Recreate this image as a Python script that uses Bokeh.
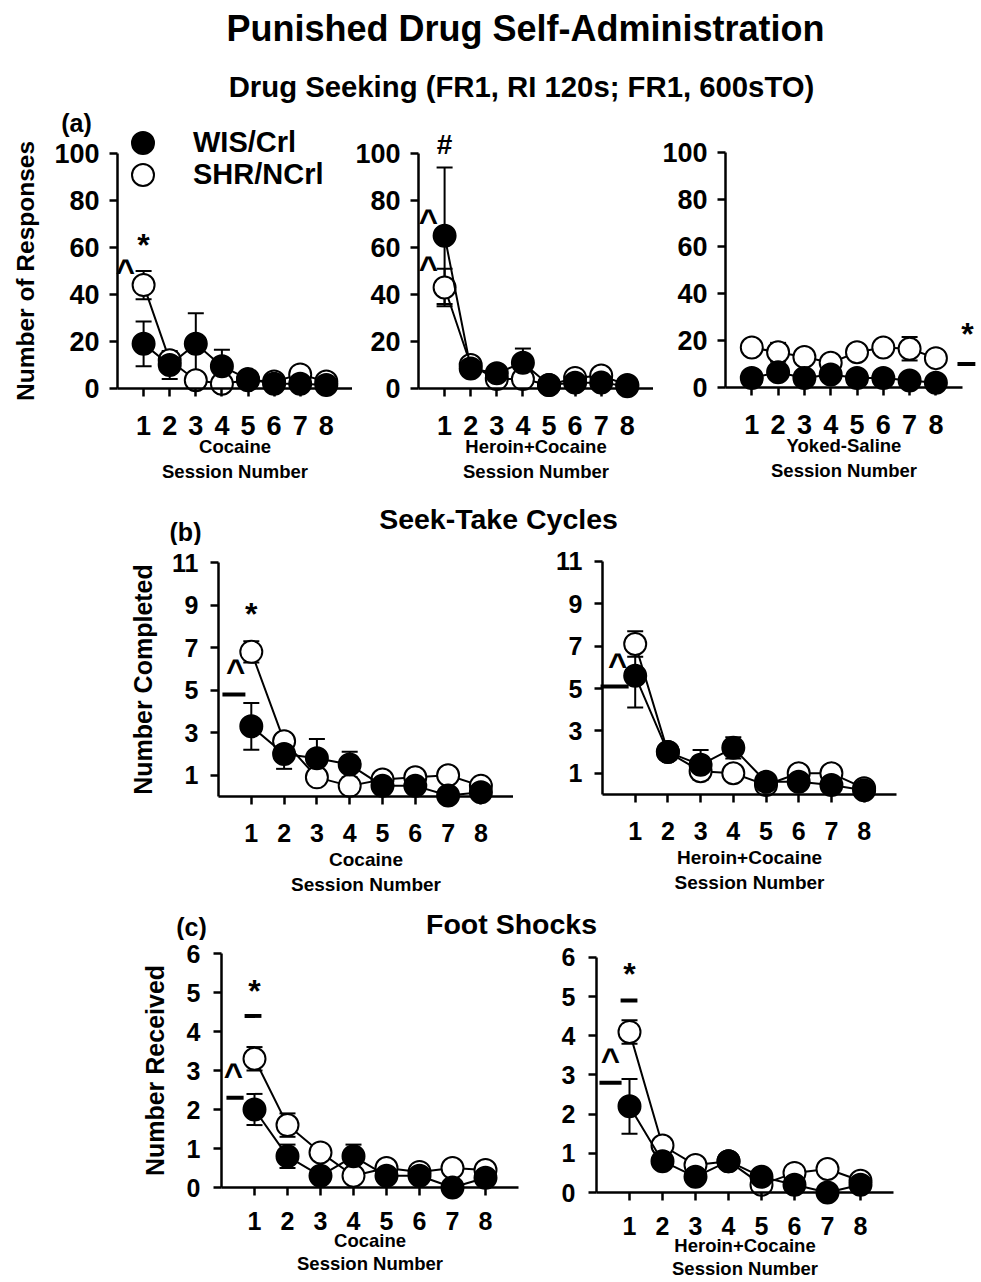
from bokeh.plotting import figure
from bokeh.layouts import column, row
from bokeh.models import (Range1d, FixedTicker, ColumnDataSource, Whisker, TeeHead,
                          Label, Legend, LegendItem)
from bokeh.embed import file_html
from bokeh.resources import INLINE

FONT = "Liberation Sans"

# ---------------- data ----------------
sessions = [1, 2, 3, 4, 5, 6, 7, 8]
groups = ["WIS/Crl", "SHR/NCrl"]

# (a) Drug seeking – number of responses
a_coc_wis = [19, 10, 19, 9.5, 4, 2, 2, 1.5]
a_coc_wis_sem = [9.5, 6, 13, 7, 1, 1, 1, 1]
a_coc_shr = [44, 12, 3.5, 2, 3.5, 3, 6, 3]
a_coc_shr_sem = [6, 2, 2, 2, 1, 1, 1.5, 1]
a_her_wis = [65, 8.5, 6.5, 11, 1.5, 2.5, 2.5, 1]
a_her_wis_sem = [29, 2, 1, 6, 0.5, 1, 1, 0.5]
a_her_shr = [43, 10, 4, 4, 1.5, 4.5, 5.5, 1.5]
a_her_shr_sem = [8, 2, 1, 2, 0.5, 1, 1, 0.5]
a_sal_wis = [4, 6.5, 4, 5.5, 4, 4, 3, 2]
a_sal_wis_sem = [1, 1.5, 1, 1, 1, 1, 1, 0.5]
a_sal_shr = [17, 15, 13, 10.5, 15, 17, 16.5, 12.5]
a_sal_shr_sem = [1, 4, 1, 1, 1, 1, 5, 1]

# (b) Seek-take cycles completed
b_coc_wis = [3.3, 2.0, 1.8, 1.5, 0.5, 0.5, 0.05, 0.2]
b_coc_wis_sem = [1.1, 0.7, 0.9, 0.6, 0.2, 0.2, 0.1, 0.1]
b_coc_shr = [6.8, 2.6, 0.9, 0.5, 0.8, 0.9, 1.0, 0.5]
b_coc_shr_sem = [0.5, 0.2, 0.1, 0.1, 0.1, 0.1, 0.1, 0.1]
b_her_wis = [5.6, 2.0, 1.4, 2.2, 0.6, 0.6, 0.45, 0.2]
b_her_wis_sem = [1.5, 0.2, 0.7, 0.5, 0.1, 0.1, 0.1, 0.1]
b_her_shr = [7.1, 2.0, 1.1, 1.0, 0.45, 1.0, 1.0, 0.3]
b_her_shr_sem = [0.6, 0.2, 0.2, 0.1, 0.1, 0.1, 0.1, 0.1]

# (c) Foot shocks received
c_coc_wis = [2.0, 0.8, 0.3, 0.8, 0.3, 0.3, 0.0, 0.25]
c_coc_wis_sem = [0.4, 0.3, 0.1, 0.3, 0.1, 0.1, 0.05, 0.1]
c_coc_shr = [3.3, 1.6, 0.9, 0.3, 0.5, 0.4, 0.5, 0.45]
c_coc_shr_sem = [0.3, 0.3, 0.1, 0.1, 0.1, 0.1, 0.1, 0.1]
c_her_wis = [2.2, 0.8, 0.4, 0.8, 0.4, 0.2, 0.0, 0.2]
c_her_wis_sem = [0.7, 0.1, 0.1, 0.1, 0.1, 0.1, 0.05, 0.1]
c_her_shr = [4.1, 1.2, 0.7, 0.8, 0.2, 0.5, 0.6, 0.3]
c_her_shr_sem = [0.3, 0.1, 0.1, 0.1, 0.1, 0.1, 0.1, 0.1]

yticks_a = [0, 20, 40, 60, 80, 100]
yticks_b = [1, 3, 5, 7, 9, 11]
yticks_c = [0, 1, 2, 3, 4, 5, 6]

# significance symbols (symbol, session position, value) and bars (x0, x1, value)
a1_sig = [("*", 1.0, 63), ("^", 0.3, 51)]
a2_sig = [("#", 1.0, 103.4), ("^", 0.38, 72), ("^", 0.38, 52)]
a3_sig = [("*", 9.2, 24.7)]
a3_bar = [(8.82, 9.5, 10)]
b1_sig = [("*", 1.0, 8.8), ("^", 0.52, 6.0)]
b1_bar = [(0.12, 0.82, 4.8)]
b2_sig = [("^", 0.46, 6.2)]
b2_bar = [(-0.06, 0.8, 5.1)]
c1_sig = [("*", 1.0, 5.15), ("^", 0.36, 2.95)]
c1_bar = [(0.7, 1.21, 4.4), (0.15, 0.67, 2.3)]
c2_sig = [("*", 1.0, 5.7), ("^", 0.42, 3.45)]
c2_bar = [(0.73, 1.24, 4.9), (0.09, 0.76, 2.8)]

# vertical anchor correction (em) and font size of the symbols
INK = {"*": 0.135, "^": 0.05, "#": -0.04}
SIGFS = {"*": 32, "^": 33, "#": 28}


def make_panel(W, H, X0, Y0, ax_x, zero_y, sx, sy, ybound, yticks, xlabel, ylabel,
               tick_fs, ytick_standoff, xtick_standoff, ylabel_fs, ylabel_standoff,
               xlabel_fs, xlabel_standoff, xlabel_lh, wis, wis_sem, shr, shr_sem,
               sig=(), bars=()):
    xs = (X0 - ax_x) / sx
    xe = (X0 + W - ax_x) / sx
    ye = (zero_y - Y0) / sy
    ys = (zero_y - (Y0 + H)) / sy
    p = figure(width=W, height=H, x_range=Range1d(xs, xe), y_range=Range1d(ys, ye),
               tools="", toolbar_location=None, output_backend="svg", min_border=0)
    p.outline_line_color = None
    p.grid.visible = False
    p.background_fill_color = "white"
    p.border_fill_color = "white"
    xa = p.xaxis[0]
    ya = p.yaxis[0]
    xa.fixed_location = 0
    ya.fixed_location = 0
    xa.bounds = (0, 9)
    ya.bounds = (0, ybound)
    xa.ticker = FixedTicker(ticks=sessions)
    ya.ticker = FixedTicker(ticks=yticks)
    for ax in (xa, ya):
        ax.axis_line_width = 2.5
        ax.axis_line_color = "black"
        ax.major_tick_line_width = 2.5
        ax.major_tick_line_color = "black"
        ax.major_tick_out = 8
        ax.major_tick_in = 0
        ax.minor_tick_line_color = None
        ax.major_label_text_font = FONT
        ax.major_label_text_font_style = "bold"
        ax.major_label_text_color = "black"
        ax.major_label_text_font_size = f"{tick_fs}px"
        ax.axis_label_text_font = FONT
        ax.axis_label_text_font_style = "bold"
        ax.axis_label_text_color = "black"
    ya.major_label_standoff = ytick_standoff
    xa.major_label_standoff = xtick_standoff
    xa.axis_label = xlabel
    xa.axis_label_text_font_size = f"{xlabel_fs}px"
    xa.axis_label_standoff = xlabel_standoff
    xa.axis_label_text_line_height = xlabel_lh
    if ylabel:
        ya.axis_label = ylabel
        ya.axis_label_text_font_size = f"{ylabel_fs}px"
        ya.axis_label_standoff = ylabel_standoff

    def series(vals, sem, fill):
        src = ColumnDataSource(dict(x=sessions, y=vals,
                                    lo=[v - e for v, e in zip(vals, sem)],
                                    hi=[v + e for v, e in zip(vals, sem)]))
        w = Whisker(source=src, base="x", upper="hi", lower="lo",
                    line_color="black", line_width=2,
                    upper_head=TeeHead(size=16, line_width=2, line_color="black"),
                    lower_head=TeeHead(size=16, line_width=2, line_color="black"))
        p.add_layout(w)
        p.line("x", "y", source=src, line_color="black", line_width=2)
        return p.scatter("x", "y", source=src, size=22, fill_color=fill,
                         line_color="black", line_width=2)

    r_shr = series(shr, shr_sem, "white")
    r_wis = series(wis, wis_sem, "black")

    for x0, x1, yv in bars:
        p.segment(x0=[x0], y0=[yv], x1=[x1], y1=[yv], line_color="black", line_width=4)
    for sym, xv, yv in sig:
        fs = SIGFS[sym]
        p.add_layout(Label(x=xv, y=yv - INK[sym] * fs / sy, text=sym, text_font=FONT,
                           text_font_style="bold", text_font_size=f"{fs}px",
                           text_align="center", text_baseline="alphabetic",
                           text_color="black"))
    return p, r_wis, r_shr


def strip(W, H, texts):
    p = figure(width=W, height=H, x_range=Range1d(0, W), y_range=Range1d(0, H),
               x_axis_type=None, y_axis_type=None, tools="", toolbar_location=None,
               output_backend="svg", min_border=0)
    p.outline_line_color = None
    p.grid.visible = False
    for txt, x, y, fs in texts:
        p.add_layout(Label(x=x, y=y, text=txt, text_font=FONT, text_font_style="bold",
                           text_font_size=f"{fs}px", text_align="center",
                           text_baseline="middle", text_color="black"))
    return p


def letter(p, txt, x, y):
    p.add_layout(Label(x=x, y=y, x_units="screen", y_units="screen", text=txt,
                       text_font=FONT, text_font_style="bold", text_font_size="25px",
                       text_align="center", text_baseline="middle", text_color="black"))


def legend_row(item_label, renderer, x, y):
    return Legend(items=[LegendItem(label=item_label, renderers=[renderer])],
                  location=(x, y), glyph_width=55, glyph_height=55,
                  padding=0, margin=0, label_standoff=23, border_line_color=None,
                  background_fill_alpha=0, label_text_font=FONT,
                  label_text_font_style="bold", label_text_font_size="29px",
                  label_text_color="black")


# ---------------- header ----------------
header = strip(979, 104, [("Punished Drug Self-Administration", 525, 76, 36),
                          ("Drug Seeking (FR1, RI 120s; FR1, 600sTO)", 521, 18, 29.3)])

# ---------------- row (a) ----------------
A_common = dict(H=386, Y0=104, sy=2.35, ybound=100, yticks=yticks_a, tick_fs=27,
                ytick_standoff=10, xtick_standoff=19, ylabel_fs=24.5, ylabel_standoff=12,
                xlabel_fs=18.5, xlabel_standoff=-2, xlabel_lh=1.2)
a1, a1_wis, a1_shr = make_panel(W=352, X0=0, ax_x=117, zero_y=388, sx=26.1,
                                xlabel="Cocaine\nSession Number", ylabel="Number of Responses",
                                wis=a_coc_wis, wis_sem=a_coc_wis_sem, shr=a_coc_shr,
                                shr_sem=a_coc_shr_sem, sig=a1_sig, **A_common)
a2, _, _ = make_panel(W=301, X0=352, ax_x=418, zero_y=388, sx=26.1,
                      xlabel="Heroin+Cocaine\nSession Number", ylabel=None,
                      wis=a_her_wis, wis_sem=a_her_wis_sem, shr=a_her_shr,
                      shr_sem=a_her_shr_sem, sig=a2_sig, **A_common)
a3, _, _ = make_panel(W=326, X0=653, ax_x=725, zero_y=387, sx=26.3,
                      xlabel="Yoked-Saline\nSession Number", ylabel=None,
                      wis=a_sal_wis, wis_sem=a_sal_wis_sem, shr=a_sal_shr,
                      shr_sem=a_sal_shr_sem, sig=a3_sig, bars=a3_bar, **A_common)
letter(a1, "(a)", 76, 368)
a1.add_layout(legend_row(groups[0], a1_wis, 115, 320))
a1.add_layout(legend_row(groups[1], a1_shr, 115, 288))

# ---------------- row (b) ----------------
strip_b = strip(979, 55, [("Seek-Take Cycles", 498, 27, 28.5), ("(b)", 185, 14, 25)])
B_common = dict(H=355, Y0=545, ybound=11, yticks=yticks_b, tick_fs=25,
                ytick_standoff=12, xtick_standoff=19, ylabel_fs=25, ylabel_standoff=12,
                xlabel_fs=19, xlabel_standoff=4, xlabel_lh=1.2)
b1, _, _ = make_panel(W=513, X0=0, ax_x=218, zero_y=796, sx=32.8, sy=21.27,
                      xlabel="Cocaine\nSession Number", ylabel="Number Completed",
                      wis=b_coc_wis, wis_sem=b_coc_wis_sem, shr=b_coc_shr,
                      shr_sem=b_coc_shr_sem, sig=b1_sig, bars=b1_bar, **B_common)
b2, _, _ = make_panel(W=466, X0=513, ax_x=602, zero_y=794, sx=32.7, sy=21.2,
                      xlabel="Heroin+Cocaine\nSession Number", ylabel=None,
                      wis=b_her_wis, wis_sem=b_her_wis_sem, shr=b_her_shr,
                      shr_sem=b_her_shr_sem, sig=b2_sig, bars=b2_bar, **B_common)

# ---------------- row (c) ----------------
strip_c = strip(979, 40, [("Foot Shocks", 511, 17, 28.5), ("(c)", 191, 14, 25)])
C_common = dict(H=340, Y0=940, ybound=6, yticks=yticks_c, tick_fs=25,
                ytick_standoff=13, xtick_standoff=16, ylabel_fs=25, ylabel_standoff=15,
                xlabel_fs=18.5, xlabel_standoff=-3, xlabel_lh=1.1)
c1, _, _ = make_panel(W=520, X0=0, ax_x=221, zero_y=1187, sx=33, sy=39,
                      xlabel="Cocaine\nSession Number", ylabel="Number Received",
                      wis=c_coc_wis, wis_sem=c_coc_wis_sem, shr=c_coc_shr,
                      shr_sem=c_coc_shr_sem, sig=c1_sig, bars=c1_bar, **C_common)
c2, _, _ = make_panel(W=459, X0=520, ax_x=596, zero_y=1192, sx=33, sy=39.17,
                      xlabel="Heroin+Cocaine\nSession Number", ylabel=None,
                      wis=c_her_wis, wis_sem=c_her_wis_sem, shr=c_her_shr,
                      shr_sem=c_her_shr_sem, sig=c2_sig, bars=c2_bar, **C_common)

layout = column(header, row(a1, a2, a3), strip_b, row(b1, b2), strip_c, row(c1, c2))

open("out.html", "w").write(file_html(layout, INLINE))
